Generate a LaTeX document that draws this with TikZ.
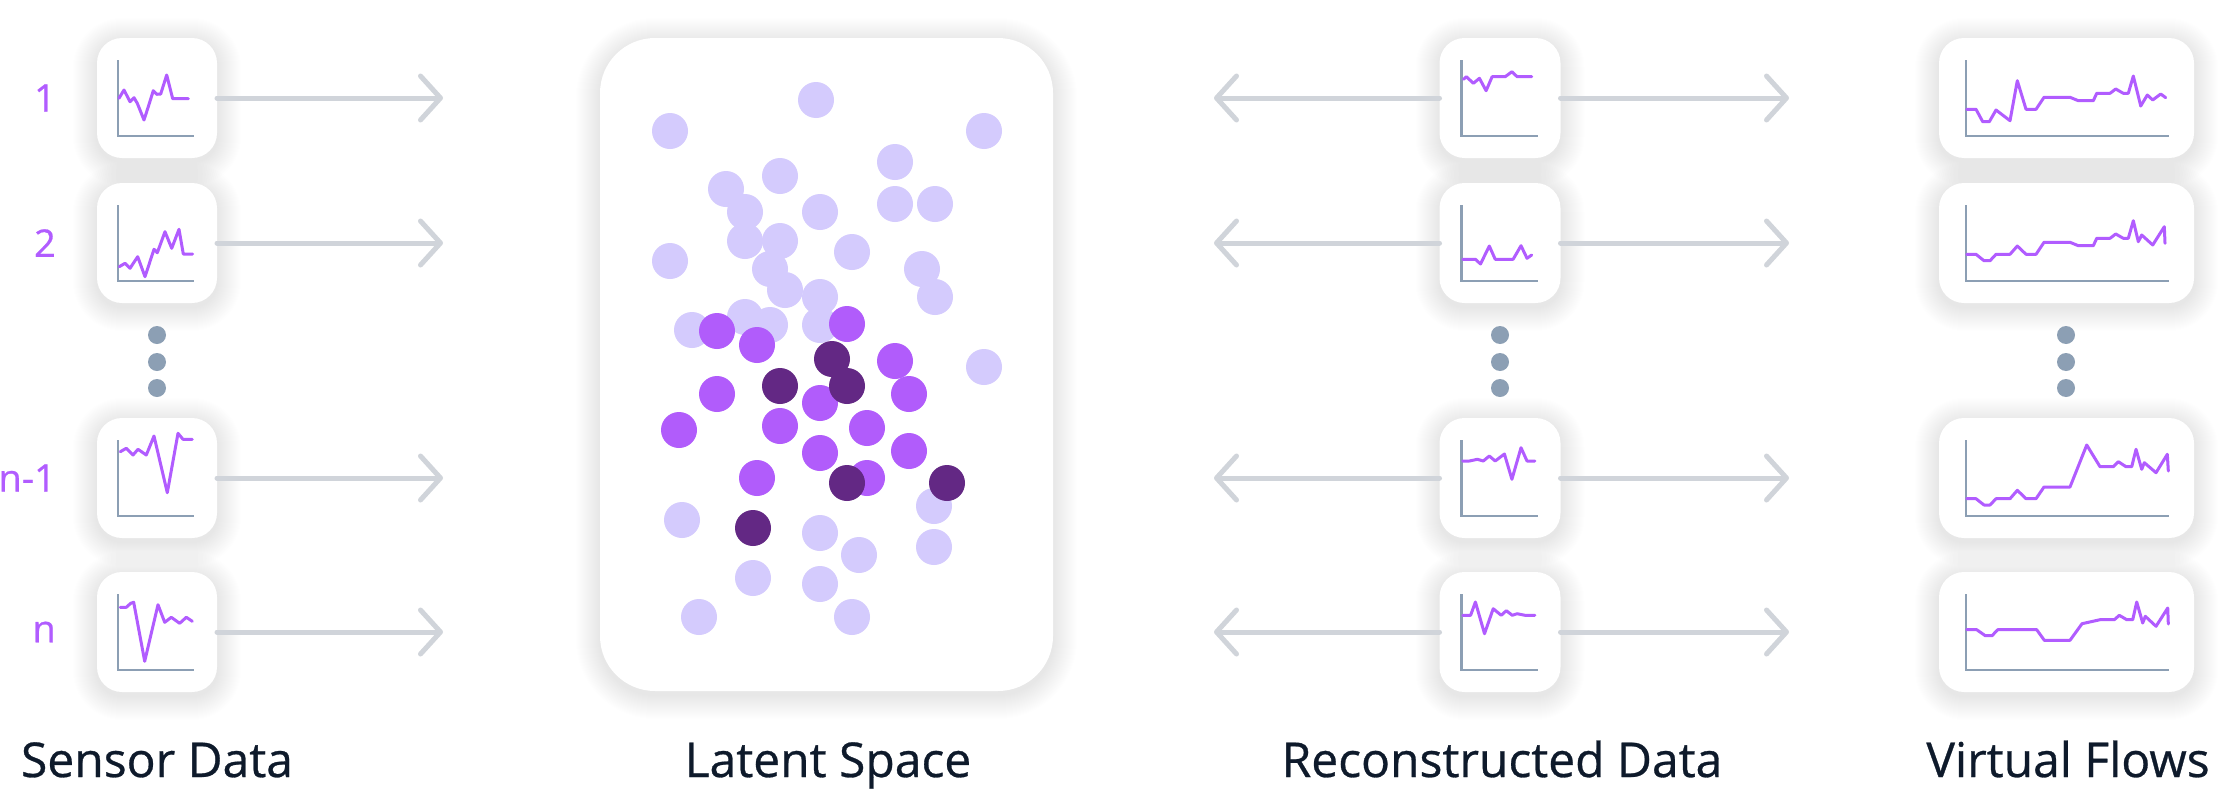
\documentclass[tikz,border=0pt]{standalone}
\usepackage{fontspec}
\setmainfont{Open Sans}
\newfontfamily\heavyfont{Open Sans}[FakeBold=0.6]
\usetikzlibrary{arrows.meta}
\pgfdeclarelayer{bg}
\pgfdeclarelayer{shadow}
\pgfsetlayers{bg,shadow,main}
\definecolor{arrowgray}{HTML}{D0D4DA}
\definecolor{axisgray}{HTML}{8C9FB4}
\definecolor{lineviolet}{HTML}{B15CFF}
\definecolor{dotlight}{HTML}{D4CBFD}
\definecolor{dotmid}{HTML}{B15CFB}
\definecolor{dotdark}{HTML}{632884}
\definecolor{titleink}{HTML}{0E1A2B}
\newcommand{\drawchart}[4]{%
  \begin{scope}[shift={(#1.south west)},shift={(#2,-22)},y=1pt]
    \draw[axisline] (0,76) -- (0,0) -- (#3,0);
    \draw[signal] plot coordinates {#4};
  \end{scope}}
\newcommand{\cardshadow}[2]{%
  \foreach \i in {1,...,24}{%
    \pgfmathsetmacro\rr{#2+\i}%
    \fill[black, opacity=0.0045, rounded corners=\rr pt]
      ([shift={(-\i,-\i+4)}]#1.north west) rectangle ([shift={(\i,\i+4)}]#1.south east);
  }}
\begin{document}
\begin{tikzpicture}[x=1pt,y=-1pt,
  card/.style={fill=white, rounded corners=25pt, inner sep=0pt, outer sep=0pt,
    minimum height=120pt},
  flow/.style={arrowgray, line width=5pt, line cap=round,
    -{Straight Barb[length=20pt,width=44pt,round]}},
  axisline/.style={axisgray, line width=2.5pt},
  signal/.style={lineviolet, line width=3pt, line join=round, line cap=round},
  rowlabel/.style={text=lineviolet, font=\heavyfont\fontsize{38}{40}\selectfont, anchor=east, inner sep=0pt},
  title/.style={text=titleink, font=\heavyfont\fontsize{48}{52}\selectfont, anchor=base, inner sep=0pt},
  ldot/.style={fill=dotlight},
  mdot/.style={fill=dotmid},
  ddot/.style={fill=dotdark},
  edot/.style={fill=axisgray}]
\begin{pgfonlayer}{bg}
\fill[white] (0,0) rectangle (2234,790);
\end{pgfonlayer}
\useasboundingbox (0,0) rectangle (2234,790);

% ---------- cards ----------
\node[card, minimum width=120pt] (s1) at (157,98) {};
\node[card, minimum width=120pt] (s2) at (157,243) {};
\node[card, minimum width=120pt] (s3) at (157,478) {};
\node[card, minimum width=120pt] (s4) at (157,632) {};

\node[card, rounded corners=55pt, minimum width=453pt, minimum height=653pt] (lat) at (826.5,364.5) {};

\node[card, minimum width=121pt] (r1) at (1500,98) {};
\node[card, minimum width=121pt] (r2) at (1500,243) {};
\node[card, minimum width=121pt] (r3) at (1500,478) {};
\node[card, minimum width=121pt] (r4) at (1500,632) {};

\node[card, minimum width=255pt] (v1) at (2066.5,98) {};
\node[card, minimum width=255pt] (v2) at (2066.5,243) {};
\node[card, minimum width=255pt] (v3) at (2066.5,478) {};
\node[card, minimum width=255pt] (v4) at (2066.5,632) {};

\begin{pgfonlayer}{shadow}
\foreach \c in {s1,s2,s3,s4,r1,r2,r3,r4,v1,v2,v3,v4}{\cardshadow{\c}{25}}
\cardshadow{lat}{55}
\end{pgfonlayer}

% ---------- arrow ends ----------
\coordinate (st1) at (443,98);
\coordinate (st2) at (443,243);
\coordinate (st3) at (443,478);
\coordinate (st4) at (443,632);
\coordinate (rl1) at (1214,98);
\coordinate (rl2) at (1214,243);
\coordinate (rl3) at (1214,478);
\coordinate (rl4) at (1214,632);
\coordinate (rr1) at (1789,98);
\coordinate (rr2) at (1789,243);
\coordinate (rr3) at (1789,478);
\coordinate (rr4) at (1789,632);

\draw[flow] (s1.east) -- (st1);
\draw[flow] (s2.east) -- (st2);
\draw[flow] (s3.east) -- (st3);
\draw[flow] (s4.east) -- (st4);
\draw[flow] (r1.west) -- (rl1);
\draw[flow] (r2.west) -- (rl2);
\draw[flow] (r3.west) -- (rl3);
\draw[flow] (r4.west) -- (rl4);
\draw[flow] (r1.east) -- (rr1);
\draw[flow] (r2.east) -- (rr2);
\draw[flow] (r3.east) -- (rr3);
\draw[flow] (r4.east) -- (rr4);

% ---------- charts ----------
\drawchart{s1}{21}{76}{(1,37.7) (6,46) (12,34.3) (16,38.3) (19.3,32.7) (26,16) (30.3,29.3) (35.3,45.3) (38.7,41.7) (42.7,42) (48.7,61) (54.7,37.3) (70.3,37.3)}
\drawchart{s2}{21}{76}{(1.3,14.3) (7,17.7) (12,12.7) (19.7,24.3) (27,4.3) (36,31.7) (39.3,28.3) (47,49.3) (53.7,32.7) (61,51.7) (65.3,27) (74.7,27)}
\drawchart{s3}{21}{76}{(2.3,64.3) (8.3,67.7) (15,61) (20,66.7) (28.3,61) (36,80) (49.3,23.3) (60,82.7) (65,76.7) (74.3,76.7)}
\drawchart{s4}{21}{76}{(2.3,62.7) (8.3,62.7) (12.7,66.7) (15.7,67.7) (26.7,8.7) (40,65.3) (46.7,47.7) (53.3,52.7) (61.7,46.7) (68.3,52.7) (74.3,48.7)}

\drawchart{r1}{22}{76}{(2,56.7) (4.8,59.3) (11.9,52.7) (17.9,57.7) (24.6,45.3) (30.6,59.3) (43.7,59.3) (50.4,64.3) (55.6,59.3) (70.2,59.3)}
\drawchart{r2}{22}{76}{(1.2,21.7) (13.9,21.7) (19,17) (27.8,35) (33.7,21.7) (51.6,21.7) (59.5,35.3) (65.5,22.7) (70.2,26)}
\drawchart{r3}{22}{76}{(1.2,55) (7.9,55) (15.9,56.7) (21.8,55) (27.8,60) (33.7,55) (42.9,62) (50.4,36.7) (59.5,68.3) (65.5,55) (73.4,55)}
\drawchart{r4}{22}{76}{(1.2,54.7) (9.1,54.7) (13.9,68) (23,36.3) (31.7,61.3) (39.7,54.7) (44.8,59.3) (50.8,54.7) (55.6,56.3) (63.5,54.7) (73.4,54.7)}

\drawchart{v1}{27}{203}{(0.7,26.7) (10,26.7) (16.7,14.3) (23.3,14.3) (30,26) (44,15.3) (51.3,55.3) (60,26.7) (70,26.7) (78,38.7) (104,38.7) (112.3,35.3) (127.3,35.3) (130.7,42.7) (144,42.7) (149.7,47) (157.3,42.7) (162.3,42.7) (167.3,60) (174.7,30) (181.3,41) (186.7,36) (194.7,42) (199.7,38.3)}
\drawchart{v2}{27}{203}{(0.7,26.7) (10,26.7) (18,20.3) (24,20.3) (30,26.7) (44,26.7) (51.3,35) (60,26.7) (70,26.7) (78,38.7) (104,38.7) (112.3,35.3) (127.3,35.3) (130.7,42.7) (144,42.7) (149.7,47) (157.3,42.7) (162.3,42.7) (167.3,60.3) (172.3,39.3) (175.7,46) (186.7,36) (198.3,54.3) (199,37.7)}
\drawchart{v3}{27}{203}{(0.7,17.3) (10,17.3) (18,11) (24,11) (30,17.3) (44,17.3) (51.3,25.7) (60,17.3) (70,17.3) (78,29) (104,29) (120.7,71) (134,49.3) (147.3,49.3) (152.3,54.3) (160,49.3) (165.7,49.3) (170,66.7) (175.7,46.7) (178.3,53.3) (190,43.3) (201.3,61.7) (202.3,45)}
\drawchart{v4}{27}{203}{(0.7,40.3) (10.7,40.3) (19.3,34.3) (26,34.3) (31.7,40.3) (70.7,40.3) (78.3,29.7) (104,29.7) (116,46.3) (134,50.3) (148.3,50.3) (153.3,54.7) (160.7,50.3) (166.7,50.3) (170.7,68) (176.7,47) (179.3,53.7) (190,43.7) (201.7,62) (202.3,46)}

% ---------- latent space dots ----------
\foreach \px/\py in {816/100, 670/131, 984/131, 895/162, 780/176, 726/189, 745/212, 820/212,
  895/204, 935/204, 745/241, 780/241, 670/261, 852/252, 770/269, 922/269, 785/290, 820/297,
  935/297, 745/317, 770/325, 692/330, 820/325, 984/367, 682/520, 934/506, 820/533, 859/555,
  934/547, 753/578, 820/584, 699/617, 852/617}
  \fill[ldot] (\px,\py) circle (18);
\foreach \px/\py in {717/331, 757/345, 847/324, 895/361, 717/394, 909/394, 820/403, 679/430,
  780/426, 867/428, 820/453, 909/451, 757/478, 867/478}
  \fill[mdot] (\px,\py) circle (18);
\foreach \px/\py in {832/359, 780/386, 847/386, 847/483, 947/483, 753/528}
  \fill[ddot] (\px,\py) circle (18);

% ---------- ellipsis dots ----------
\foreach \ex in {157,1500,2066}
  \foreach \ey in {335,362,388}
    \fill[edot] (\ex,\ey) circle (9);

% ---------- labels ----------
\node[rowlabel] (l1) at (56,98) {1};
\node[rowlabel] (l2) at (56,243) {2};
\node[rowlabel] (l3) at (56,478) {n-1};
\node[rowlabel] (l4) at (56,632) {n};

\node[title] (t1) at (157,777) {Sensor Data};
\node[title] (t2) at (828,777) {Latent Space};
\node[title] (t3) at (1502,777) {Reconstructed Data};
\node[title] (t4) at (2068,777) {Virtual Flows};
\end{tikzpicture}
\end{document}
